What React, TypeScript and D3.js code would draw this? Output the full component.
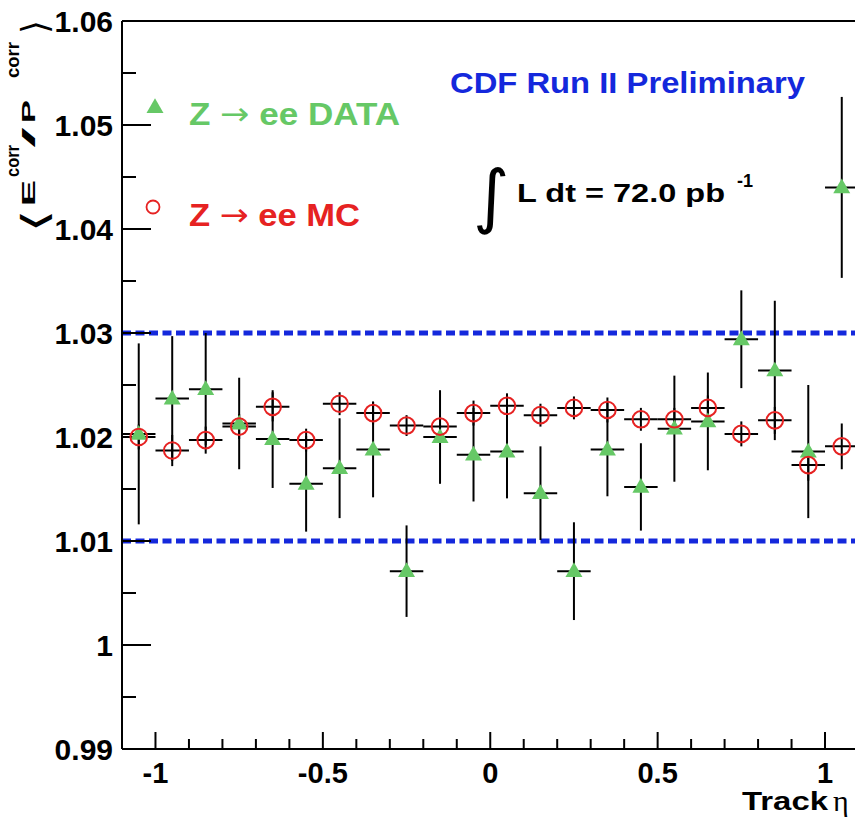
import React from "react";
import * as d3 from "d3";

const etaCenters = [-1.05, -0.95, -0.85, -0.75, -0.65, -0.55, -0.45, -0.35, -0.25, -0.15, -0.05, 0.05, 0.15, 0.25, 0.35, 0.45, 0.55, 0.65, 0.75, 0.85, 0.95, 1.05];
const binHalfWidth = 0.05;
const dataValues = [1.0203, 1.0237, 1.0246, 1.0213, 1.0198, 1.0155, 1.017, 1.0188, 1.0071, 1.02, 1.0183, 1.0186, 1.0146, 1.0071, 1.0188, 1.0152, 1.0208, 1.0215, 1.0294, 1.0264, 1.0186, 1.044];
const dataErrors = [0.0087, 0.006, 0.0054, 0.0044, 0.0047, 0.0046, 0.0048, 0.0046, 0.0044, 0.0045, 0.0045, 0.0045, 0.0045, 0.0047, 0.0045, 0.0042, 0.0051, 0.0047, 0.0047, 0.0067, 0.0064, 0.0087];
const mcValues = [1.02, 1.0187, 1.0197, 1.021, 1.0229, 1.0197, 1.0232, 1.0223, 1.0211, 1.021, 1.0223, 1.023, 1.0221, 1.0228, 1.0226, 1.0217, 1.0217, 1.0228, 1.0203, 1.0216, 1.0173, 1.0191];
const mcErrors = [0.0012, 0.0015, 0.0013, 0.0012, 0.0014, 0.0011, 0.0011, 0.0011, 0.001, 0.0011, 0.0012, 0.0012, 0.0011, 0.0011, 0.0012, 0.0011, 0.0011, 0.0012, 0.0012, 0.0013, 0.0015, 0.0022];
const yTickLabels = [0.99, 1, 1.01, 1.02, 1.03, 1.04, 1.05, 1.06];
const xTickLabels = [-1, -0.5, 0, 0.5, 1];
const referenceLines = [1.01, 1.03];

const W = 855;
const H = 825;
const GREEN = "#66c866";
const RED = "#e62222";
const BLUE = "#1428dc";
const FONT = "'Liberation Sans', Arial, Helvetica, sans-serif";

export default function App() {
  const x = d3.scaleLinear().domain([-1.1, 1.1]).range([122, 858.5]);
  const y = d3.scaleLinear().domain([0.99, 1.06]).range([749, 21]);

  const yMinor = d3.range(0.99, 1.0601, 0.005);
  const xMinor = d3.range(-1.0, 1.0501, 0.1);
  const tri = d3.symbol().type(d3.symbolTriangle).size(125);

  const fmt = (v: number) => (Math.abs(v) < 1e-9 ? "0" : String(+v.toFixed(2)));

  return (
    <svg width={W} height={H} style={{ position: "absolute", left: 0, top: 0, background: "#fff" }} fontFamily={FONT}>
      <rect x={0} y={0} width={W} height={H} fill="#fff" />

      {/* reference dashed lines */}
      {referenceLines.map((v) => (
        <line key={v} x1={x(-1.1)} x2={W} y1={y(v)} y2={y(v)} stroke={BLUE} strokeWidth={5} strokeDasharray="9,4.5" />
      ))}

      {/* frame / axes */}
      <line x1={x(-1.1)} x2={x(-1.1)} y1={y(1.06)} y2={y(0.99)} stroke="#000" strokeWidth={2} />
      <line x1={x(-1.1)} x2={W} y1={y(0.99)} y2={y(0.99)} stroke="#000" strokeWidth={2} />
      <line x1={x(-1.1)} x2={W} y1={y(1.06)} y2={y(1.06)} stroke="#000" strokeWidth={2} />

      {/* y ticks */}
      {yMinor.map((v, i) => {
        const major = i % 2 === 0;
        return <line key={"yt" + i} x1={x(-1.1)} x2={x(-1.1) + (major ? 29 : 14)} y1={y(v)} y2={y(v)} stroke="#000" strokeWidth={2} />;
      })}
      {yTickLabels.map((v) => (
        <text key={"yl" + v} x={113} y={y(v) + 11} textAnchor="end" fontSize={30} fontWeight="bold" fill="#000">
          {fmt(v)}
        </text>
      ))}

      {/* x ticks */}
      {xMinor.map((v, i) => {
        const major = Math.abs(Math.round(v * 10) % 5) === 0;
        return <line key={"xt" + i} x1={x(v)} x2={x(v)} y1={y(0.99)} y2={y(0.99) - (major ? 17 : 10)} stroke="#000" strokeWidth={2} />;
      })}
      {xTickLabels.map((v) => (
        <text key={"xl" + v} x={x(v)} y={783} textAnchor="middle" fontSize={29} fontWeight="bold" fill="#000">
          {fmt(v)}
        </text>
      ))}

      {/* x axis title */}
      <text x={742} y={810} fontSize={25} fontWeight="bold" textLength={86} lengthAdjust="spacingAndGlyphs" fill="#000">Track</text>
      <text x={833} y={811} fontSize={30} fontFamily="'Liberation Serif', 'DejaVu Serif', serif" fill="#000">η</text>

      {/* y axis title */}
      <g transform="translate(35,233) rotate(-90)" fill="#000">
        <text x={0} y={12} fontSize={36} fontFamily="'DejaVu Sans', sans-serif" textLength={24} lengthAdjust="spacingAndGlyphs">⟨</text>
        <text x={27} y={0} fontSize={19} fontWeight="bold" textLength={26} lengthAdjust="spacingAndGlyphs">E</text>
        <text x={56} y={-16} fontSize={19} fontWeight="bold" textLength={32} lengthAdjust="spacingAndGlyphs">corr</text>
        <text x={85} y={0} fontSize={19} fontWeight="bold" textLength={21} lengthAdjust="spacingAndGlyphs">/</text>
        <text x={110} y={0} fontSize={19} fontWeight="bold" textLength={23} lengthAdjust="spacingAndGlyphs">P</text>
        <text x={155} y={-16} fontSize={19} fontWeight="bold" textLength={36} lengthAdjust="spacingAndGlyphs">corr</text>
        <text x={199} y={12} fontSize={36} fontFamily="'DejaVu Sans', sans-serif" textLength={14} lengthAdjust="spacingAndGlyphs">⟩</text>
      </g>

      {/* MC error bars */}
      {etaCenters.map((e, i) => (
        <g key={"mce" + i} stroke="#000" strokeWidth={2}>
          <line x1={x(e - binHalfWidth)} x2={x(e + binHalfWidth)} y1={y(mcValues[i])} y2={y(mcValues[i])} />
          <line x1={x(e)} x2={x(e)} y1={y(mcValues[i] - mcErrors[i])} y2={y(mcValues[i] + mcErrors[i])} />
        </g>
      ))}
      {/* DATA error bars */}
      {etaCenters.map((e, i) => (
        <g key={"de" + i} stroke="#000" strokeWidth={2}>
          <line x1={x(e - binHalfWidth)} x2={x(e + binHalfWidth)} y1={y(dataValues[i])} y2={y(dataValues[i])} />
          <line x1={x(e)} x2={x(e)} y1={y(dataValues[i] - dataErrors[i])} y2={y(dataValues[i] + dataErrors[i])} />
        </g>
      ))}
      {/* DATA markers */}
      {etaCenters.map((e, i) => (
        <path key={"dm" + i} d={tri() as string} transform={`translate(${x(e)},${y(dataValues[i]) + 1})`} fill={GREEN} />
      ))}
      {/* MC markers */}
      {etaCenters.map((e, i) => (
        <circle key={"mm" + i} cx={x(e)} cy={y(mcValues[i])} r={8.3} fill="none" stroke={RED} strokeWidth={2} />
      ))}

      {/* legend */}
      <path d={tri() as string} transform="translate(155,108)" fill={GREEN} />
      <text x={189} y={125} fontSize={32} fontWeight="bold" fill={GREEN} textLength={211} lengthAdjust="spacingAndGlyphs">
        Z <tspan fontFamily="'DejaVu Sans', sans-serif" fontWeight="normal">→</tspan> ee DATA
      </text>
      <circle cx={153} cy={207} r={6.5} fill="none" stroke={RED} strokeWidth={1.8} />
      <text x={189} y={226} fontSize={32} fontWeight="bold" fill={RED} textLength={171} lengthAdjust="spacingAndGlyphs">
        Z <tspan fontFamily="'DejaVu Sans', sans-serif" fontWeight="normal">→</tspan> ee MC
      </text>

      {/* annotations */}
      <text x={450} y={93} fontSize={30} fontWeight="bold" fill={BLUE} textLength={355} lengthAdjust="spacingAndGlyphs">CDF Run II Preliminary</text>
      <text x={473} y={220} fontSize={70} fontFamily="'DejaVu Sans', sans-serif" fill="#000">∫</text>
      <text x={517} y={202} fontSize={26} fontWeight="bold" fill="#000" textLength={208} lengthAdjust="spacingAndGlyphs">L dt = 72.0 pb</text>
      <text x={737} y={187} fontSize={18} fontWeight="bold" fill="#000">-1</text>
    </svg>
  );
}
